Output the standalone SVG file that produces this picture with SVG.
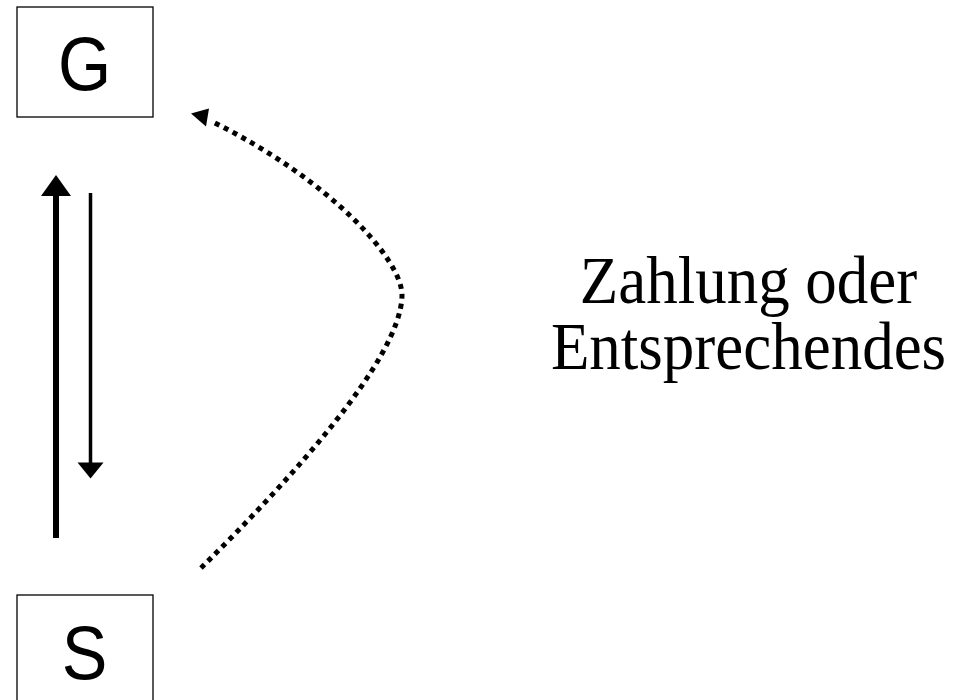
<svg xmlns="http://www.w3.org/2000/svg" width="963" height="700" viewBox="0 0 963 700">
  <style>
    .box { fill: #ffffff; stroke: #000000; stroke-width: 1.3; }
    .node-label { font-family: "Liberation Sans", Arial, sans-serif; font-size: 76px; fill: #000000; text-anchor: middle; }
    .caption { font-family: "Liberation Serif", "Times New Roman", serif; font-size: 67px; fill: #000000; text-anchor: middle; }
    .head { fill: #000000; stroke: none; }
    .dotted { fill: none; stroke: #000000; stroke-width: 5; stroke-dasharray: 5 5; stroke-linecap: butt; }
  </style>
  <rect width="963" height="700" fill="#ffffff"/>

  <!-- node G -->
  <g id="node-G">
    <rect class="box" x="17" y="7" width="136" height="110"/>
    <text class="node-label" transform="translate(84.5,90) scale(0.9,1)" x="0" y="0">G</text>
  </g>

  <!-- node S -->
  <g id="node-S">
    <rect class="box" x="17" y="595" width="136" height="115"/>
    <text class="node-label" transform="translate(84.5,679) scale(0.9,1)" x="0" y="0">S</text>
  </g>

  <!-- connectors -->
  <g id="connectors">
    <!-- thick arrow up toward G -->
    <line x1="56" y1="538" x2="56" y2="194" stroke="#000000" stroke-width="6"/>
    <polygon class="head" points="56,175 71,196 41,196"/>

    <!-- thin arrow down toward S -->
    <line x1="90.5" y1="193" x2="90.5" y2="464" stroke="#000000" stroke-width="3.5"/>
    <polygon class="head" points="77.5,462.5 103.5,462.5 90.5,478.5"/>

    <!-- dotted curved return from S to G -->
    <path class="dotted" d="M 201 568 C 290 480, 400 360, 402 296 C 403 260, 330 180, 213 122"/>
    <polygon class="head" points="191,113.5 209,108.5 206,126.5"/>
  </g>

  <!-- caption -->
  <g id="caption">
    <text class="caption" transform="translate(748.5,303) scale(0.94,1)" x="0" y="0">Zahlung oder</text>
    <text class="caption" transform="translate(748.5,369) scale(0.94,1)" x="0" y="0">Entsprechendes</text>
  </g>
</svg>
